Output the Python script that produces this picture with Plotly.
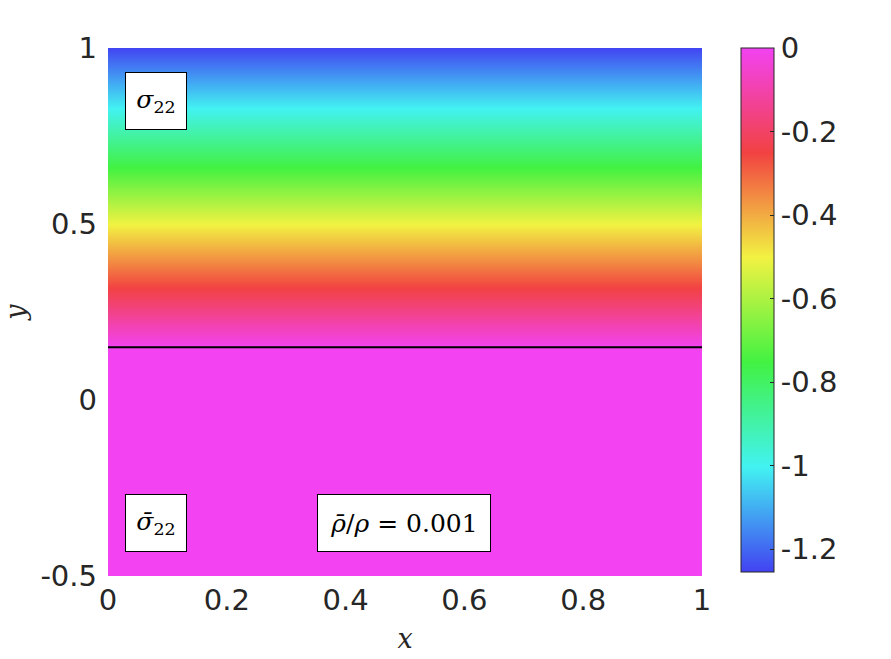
import plotly.graph_objects as go

# ---- data ----
x_vals = [0.0, 1.0]
y_vals = [-0.5, 0.15, 0.318, 0.497, 0.659, 0.827, 1.0]
sigma_vals = [0.0, 0.0, -0.25, -0.5, -0.75, -1.0, -1.25]
interface_y = 0.15
x_ticks = [0, 0.2, 0.4, 0.6, 0.8, 1]
x_ticktext = ["0", "0.2", "0.4", "0.6", "0.8", "1"]
y_ticks = [-0.5, 0, 0.5, 1]
y_ticktext = ["-0.5", "0", "0.5", "1"]
cb_ticks = [0, -0.2, -0.4, -0.6, -0.8, -1.0, -1.2]
cb_ticktext = ["0", "-0.2", "-0.4", "-0.6", "-0.8", "-1", "-1.2"]
c_min, c_max = -1.255, 0.0

z = [[v for _ in x_vals] for v in sigma_vals]

colorscale = [
    [0.0, "rgb(66,66,242)"],
    [0.2, "rgb(66,242,242)"],
    [0.4, "rgb(66,242,66)"],
    [0.6, "rgb(242,242,66)"],
    [0.8, "rgb(242,66,66)"],
    [1.0, "rgb(242,66,242)"],
]

tick_font = dict(family="DejaVu Sans", size=29, color="#262626")

fig = go.Figure()
fig.add_trace(go.Heatmap(
    x=x_vals, y=y_vals, z=z, zsmooth="best",
    colorscale=colorscale, zmin=c_min, zmax=c_max,
    colorbar=dict(
        x=1.0657, xanchor="left", xref="paper", xpad=0, ypad=0,
        y=1.0, yanchor="top", len=0.9925, lenmode="fraction",
        thickness=33, thicknessmode="pixels",
        outlinewidth=1, outlinecolor="#262626",
        tickvals=cb_ticks, ticktext=cb_ticktext,
        ticks="inside", ticklen=4, tickcolor="#262626",
        tickfont=tick_font, ticklabelposition="outside",
    ),
    showscale=True,
    hoverinfo="skip",
))
fig.add_trace(go.Scatter(
    x=x_vals, y=[interface_y, interface_y], mode="lines",
    line=dict(color="black", width=2), showlegend=False, hoverinfo="skip",
))

serif = dict(family="DejaVu Serif", size=25, color="black")
box = dict(bgcolor="white", bordercolor="black", borderwidth=1, showarrow=False,
           xanchor="center", yanchor="middle", xref="x", yref="y", font=serif)
fig.add_annotation(x=0.0808, y=0.849, text="<i>σ</i><sub>22</sub>", width=58, height=54, **box)
fig.add_annotation(x=0.0816, y=-0.349, text="<i>σ\u0304</i><sub>22</sub>", width=58, height=54, **box)
fig.add_annotation(x=0.499, y=-0.349, text="<i>ρ\u0304</i>/<i>ρ</i> = 0.001", width=170, height=54, **box)

fig.update_layout(
    width=891, height=659,
    margin=dict(l=108, r=189, t=48, b=83, autoexpand=False),
    paper_bgcolor="white", plot_bgcolor="white",
    showlegend=False,
    xaxis=dict(range=[0, 1], tickvals=x_ticks, ticktext=x_ticktext, showgrid=False,
               zeroline=False, showline=False, ticks="", tickfont=tick_font,
               ticklabelstandoff=4, automargin=False,
               title=dict(text="<i>x</i>", font=dict(family="DejaVu Serif", size=27, color="#262626"),
                          standoff=13)),
    yaxis=dict(range=[-0.5, 1], tickvals=y_ticks, ticktext=y_ticktext, showgrid=False,
               zeroline=False, showline=False, ticks="", tickfont=tick_font,
               ticklabelstandoff=10, automargin=False,
               title=dict(text="<i>y</i>", font=dict(family="DejaVu Serif", size=27, color="#262626"),
                          standoff=12)),
)

fig.write_html("out.html")
